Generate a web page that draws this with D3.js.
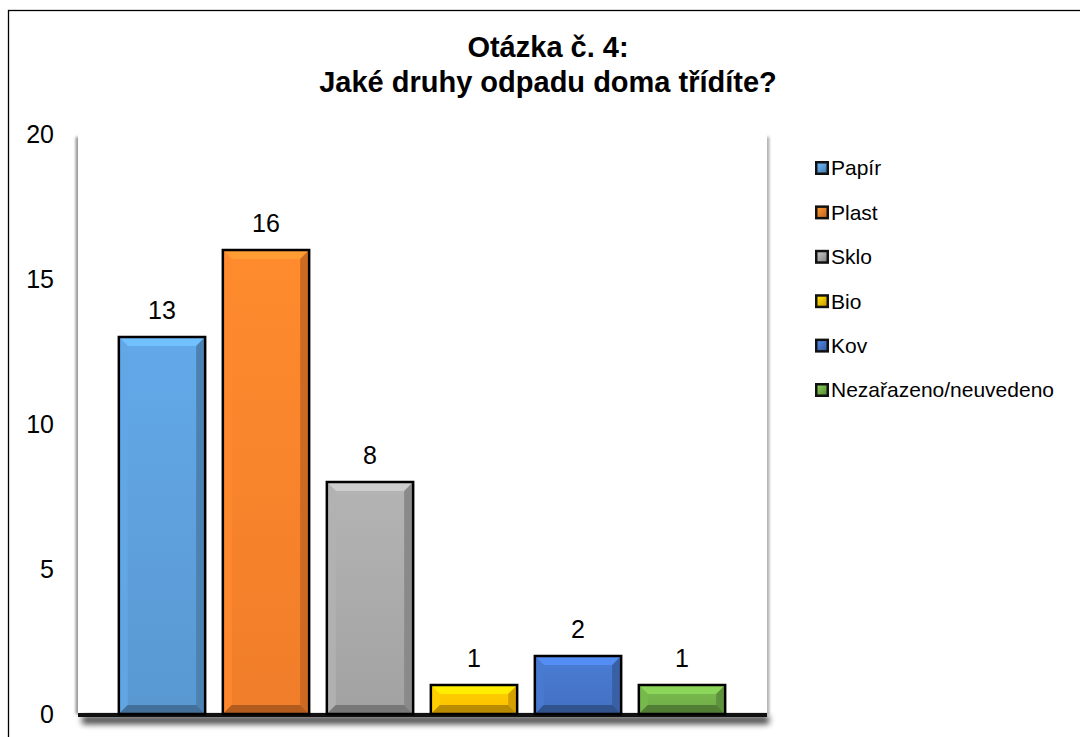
<!DOCTYPE html>
<html><head><meta charset="utf-8">
<script src="https://cdn.jsdelivr.net/npm/d3@7"></script>
<style>html,body{margin:0;padding:0;background:#fff;}svg{display:block;font-family:Arial,"Liberation Sans",sans-serif;}</style>
</head><body>
<svg id="c" width="1080" height="737"></svg>
<script>
const categories = ["Papír","Plast","Sklo","Bio","Kov","Nezařazeno/neuvedeno"];
const values = [13,16,8,1,2,1];
const colors = ["#5b9bd5","#f47f2a","#a5a5a5","#ffc000","#4472c4","#70ad47"];
const yTicks = [0,5,10,15,20];
const titleLines = ["Otázka č. 4:","Jaké druhy odpadu doma třídíte?"];

const svg = d3.select("#c");
const defs = svg.append("defs");
defs.append("filter").attr("id","blur3").attr("x","-20%").attr("y","-50%").attr("width","140%").attr("height","300%")
  .append("feGaussianBlur").attr("stdDeviation",3);
defs.append("filter").attr("id","blur1").attr("x","-200%").attr("y","-5%").attr("width","500%").attr("height","110%")
  .append("feGaussianBlur").attr("stdDeviation",1.5);

// outer border
svg.append("rect").attr("x",8.5).attr("y",10.5).attr("width",1100).attr("height",760)
  .attr("fill","#fff").attr("stroke","#000").attr("stroke-width",1.3);

const y = d3.scaleLinear().domain([0,20]).range([714,134]);
const x = d3.scaleBand().domain(categories).range([110,734]).paddingInner(0.17).paddingOuter(0.085);

// wall
const wallL = 78, wallR = 767, wallTop = 137;
svg.append("rect").attr("x",wallL-2).attr("y",wallTop).attr("width",3).attr("height",y(0)-wallTop)
  .attr("fill","#777").attr("filter","url(#blur1)");
svg.append("rect").attr("x",wallR-1).attr("y",wallTop).attr("width",3).attr("height",y(0)-wallTop)
  .attr("fill","#999").attr("filter","url(#blur1)");
svg.append("rect").attr("x",wallL).attr("y",wallTop-2).attr("width",wallR-wallL).attr("height",y(0)-wallTop+2).attr("fill","#fff");
// floor shadow
svg.append("rect").attr("x",wallL+4).attr("y",y(0)+2).attr("width",wallR-wallL-2).attr("height",8)
  .attr("fill","#000").attr("opacity",0.75).attr("filter","url(#blur3)");
svg.append("rect").attr("x",wallL).attr("y",y(0)-1).attr("width",wallR-wallL).attr("height",4).attr("fill","#111");

// y tick labels
svg.append("g").selectAll("text").data(yTicks).join("text")
  .attr("x",54).attr("y",d=>y(d)).attr("dy","0.35em").attr("text-anchor","end")
  .attr("font-size",25).attr("fill","#000").text(d=>d);

// bars with bevel
function bevelBar(g, x0, y0, w, h, col, i){
  const c = d3.color(col);
  const b = Math.min(9, h/3);
  const lighter = c.brighter(0.6), light = c.brighter(0.2), dark = c.darker(0.5), darker = c.darker(0.9);
  const id = "bg" + i;
  const gr = defs.append("linearGradient").attr("id",id).attr("x1",0).attr("y1",0).attr("x2",0).attr("y2",1);
  gr.append("stop").attr("offset",0).attr("stop-color",c.brighter(0.25));
  gr.append("stop").attr("offset",1).attr("stop-color",c.darker(0.05));
  g.append("rect").attr("x",x0).attr("y",y0).attr("width",w).attr("height",h).attr("fill",`url(#${id})`);
  const P = pts => pts.map(p=>p.join(",")).join(" ");
  g.append("polygon").attr("points",P([[x0,y0],[x0+w,y0],[x0+w-b,y0+b],[x0+b,y0+b]])).attr("fill",lighter);
  g.append("polygon").attr("points",P([[x0,y0],[x0+b,y0+b],[x0+b,y0+h-b],[x0,y0+h]])).attr("fill",light).attr("opacity",0.9);
  g.append("polygon").attr("points",P([[x0+w,y0],[x0+w,y0+h],[x0+w-b,y0+h-b],[x0+w-b,y0+b]])).attr("fill",dark);
  g.append("polygon").attr("points",P([[x0,y0+h],[x0+b,y0+h-b],[x0+w-b,y0+h-b],[x0+w,y0+h]])).attr("fill",darker);
  g.append("rect").attr("x",x0).attr("y",y0).attr("width",w).attr("height",h)
    .attr("fill","none").attr("stroke","#000").attr("stroke-width",2.5);
}
const barsG = svg.append("g");
categories.forEach((cat,i)=>{
  const g = barsG.append("g");
  bevelBar(g, x(cat), y(values[i]), x.bandwidth(), y(0)-y(values[i]), colors[i], i);
});
// data labels
svg.append("g").selectAll("text").data(values).join("text")
  .attr("x",(d,i)=>x(categories[i])+x.bandwidth()/2).attr("y",d=>y(d)-18)
  .attr("text-anchor","middle").attr("font-size",25).attr("fill","#000").text(d=>d);

// title
svg.append("g").selectAll("text").data(titleLines).join("text")
  .attr("x",548).attr("y",(d,i)=>57+i*35)
  .attr("text-anchor","middle").attr("font-size",29).attr("font-weight","bold").attr("fill","#000").text(d=>d);

// legend
const lg = svg.append("g");
categories.forEach((cat,i)=>{
  const cy = 168 + i*44.4;
  const c = d3.color(colors[i]);
  lg.append("rect").attr("x",815).attr("y",cy-7).attr("width",14).attr("height",14).attr("fill","#111");
  const gid = "lg"+i;
  const gr = defs.append("linearGradient").attr("id",gid).attr("x1",0).attr("y1",0).attr("x2",1).attr("y2",1);
  gr.append("stop").attr("offset",0).attr("stop-color",c.brighter(0.5));
  gr.append("stop").attr("offset",1).attr("stop-color",c.darker(0.6));
  lg.append("rect").attr("x",817.5).attr("y",cy-4.5).attr("width",9).attr("height",9).attr("fill",`url(#${gid})`);
  lg.append("text").attr("x",831).attr("y",cy).attr("dy","0.35em").attr("font-size",21).attr("fill","#000").text(cat);
});
</script>
</body></html>
